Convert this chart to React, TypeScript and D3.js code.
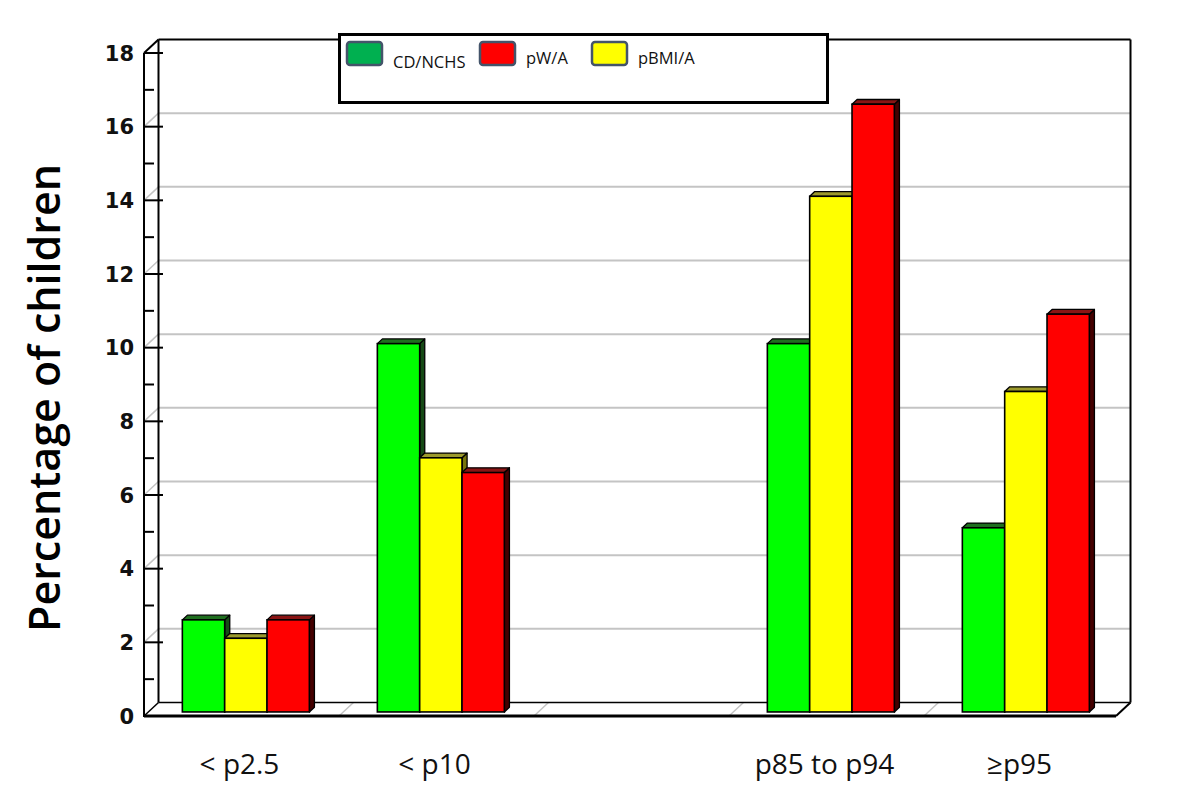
import React from "react";
import * as d3 from "d3";

const categories = ["< p2.5", "< p10", "", "p85 to p94", "≥p95"];
const seriesKeys = ["CD/NCHS", "pBMI/A", "pW/A"];
const cdNchs = [2.5, 10.0, null, 10.0, 5.0];
const pBmiA = [2.0, 6.9, null, 14.0, 8.7];
const pWA = [2.5, 6.5, null, 16.5, 10.8];
const yMajorTicks = [0, 2, 4, 6, 8, 10, 12, 14, 16, 18];
const yMinorTicks = [1, 3, 5, 7, 9, 11, 13, 15, 17];
const legendItems = ["CD/NCHS", "pW/A", "pBMI/A"];
const yTitle = "Percentage of children";

const seriesValues: Record<string, (number | null)[]> = {
  "CD/NCHS": cdNchs,
  "pBMI/A": pBmiA,
  "pW/A": pWA,
};

const barStyle: Record<string, { front: string; top: string; side: string }> = {
  "CD/NCHS": { front: "#00ff00", top: "#1f6f1f", side: "#164a16" },
  "pBMI/A": { front: "#ffff00", top: "#9c9a2c", side: "#77750a" },
  "pW/A": { front: "#ff0000", top: "#8a1414", side: "#450000" },
};
const legendColor: Record<string, string> = {
  "CD/NCHS": "#00b050",
  "pW/A": "#ff0000",
  "pBMI/A": "#ffff00",
};

const W = 1200;
const H = 812;
const X0 = 144;
const X1 = 1119;
const DX = 14.5;
const DY = 13.5;
const Z_FRONT = 0.3;
const Z_BACK = 0.65;

export default function App() {
  const x = d3.scaleBand<string>().domain(categories).range([X0, X1]).paddingInner(0).paddingOuter(0);
  const groupW = 127;
  const xs = d3.scaleBand<string>().domain(seriesKeys).range([0, groupW]);
  const y = d3.scaleLinear().domain([0, 18]).range([716, 53]);

  const P = (xf: number, v: number, z: number): [number, number] => [xf + z * DX, y(v) - z * DY];
  const pts = (arr: [number, number][]) => arr.map((p) => p.join(",")).join(" ");

  const backLeft = X0 + DX;
  const backRight = X1 + DX - 3;
  const frontRight = X1 - 3;

  const bars: React.ReactNode[] = [];
  categories.forEach((cat, ci) => {
    const gx = (x(cat) as number) + (x.bandwidth() - groupW) / 2;
    seriesKeys.forEach((key) => {
      const v = seriesValues[key][ci];
      if (v == null) return;
      const bx0 = gx + (xs(key) as number);
      const bx1 = bx0 + xs.bandwidth();
      const st = barStyle[key];
      const fbl = P(bx0, 0, Z_FRONT);
      const fbr = P(bx1, 0, Z_FRONT);
      const ftl = P(bx0, v, Z_FRONT);
      const ftr = P(bx1, v, Z_FRONT);
      const btl = P(bx0, v, Z_BACK);
      const btr = P(bx1, v, Z_BACK);
      const bbr = P(bx1, 0, Z_BACK);
      bars.push(
        <g key={cat + key}>
          <polygon points={pts([fbr, ftr, btr, bbr])} fill={st.side} stroke="#000" strokeWidth={1.3} strokeLinejoin="round" />
          <polygon points={pts([ftl, ftr, btr, btl])} fill={st.top} stroke="#000" strokeWidth={1.3} strokeLinejoin="round" />
          <rect x={ftl[0]} y={ftl[1]} width={bx1 - bx0} height={fbl[1] - ftl[1]} fill={st.front} stroke="#000" strokeWidth={1.6} />
        </g>
      );
    });
  });

  return (
    <svg width={W} height={H} viewBox={`0 0 ${W} ${H}`} style={{ position: "absolute", left: 0, top: 0, background: "#fff" }}>
      <rect x={0} y={0} width={W} height={H} fill="#fff" />
      {/* back wall gridlines */}
      {yMajorTicks.filter((t) => t > 0 && t < 18).map((t) => {
        const f = P(X0, t, 0);
        const b = P(X0, t, 1);
        return (
          <g key={"g" + t}>
            <line x1={b[0]} y1={b[1]} x2={backRight} y2={b[1]} stroke="#c4c4c4" strokeWidth={2} />
            <line x1={f[0]} y1={f[1]} x2={b[0]} y2={b[1]} stroke="#c4c4c4" strokeWidth={1.5} />
          </g>
        );
      })}
      {/* floor diagonals at category boundaries */}
      {categories.slice(1).map((cat) => {
        const xb = x(cat) as number;
        const f = P(xb, 0, 0);
        const b = P(xb, 0, 1);
        return <line key={"fd" + cat} x1={f[0]} y1={f[1]} x2={b[0]} y2={b[1]} stroke="#c4c4c4" strokeWidth={1.5} />;
      })}
      {/* walls */}
      <line x1={backLeft} y1={y(18) - DY} x2={backRight} y2={y(18) - DY} stroke="#000" strokeWidth={2} />
      <line x1={backLeft} y1={y(18) - DY} x2={backLeft} y2={y(0) - DY} stroke="#000" strokeWidth={2} />
      <line x1={backLeft} y1={y(0) - DY} x2={backRight} y2={y(0) - DY} stroke="#000" strokeWidth={1.6} />
      <line x1={backRight} y1={y(18) - DY} x2={backRight} y2={y(0) - DY} stroke="#000" strokeWidth={2} />
      <line x1={backRight} y1={y(0) - DY} x2={frontRight} y2={y(0)} stroke="#000" strokeWidth={2} />
      <line x1={X0} y1={y(18)} x2={backLeft} y2={y(18) - DY} stroke="#000" strokeWidth={2} />
      <line x1={X0} y1={y(0)} x2={backLeft} y2={y(0) - DY} stroke="#000" strokeWidth={1.5} />
      {/* bars */}
      {bars}
      {/* front floor edge & axis */}
      <line x1={X0} y1={y(0)} x2={frontRight} y2={y(0)} stroke="#000" strokeWidth={3} />
      <line x1={X0} y1={y(0) + 1} x2={X0} y2={y(18)} stroke="#000" strokeWidth={2} />
      {yMajorTicks.map((t) => (
        <g key={"t" + t}>
          <line x1={X0} y1={y(t)} x2={X0 + 19} y2={y(t)} stroke="#000" strokeWidth={2} />
          <text x={134} y={y(t)} dy="0.36em" textAnchor="end" fontFamily="'DejaVu Sans', Arial, sans-serif" fontWeight="bold" fontSize={21} fill="#111">
            {t}
          </text>
        </g>
      ))}
      {yMinorTicks.map((t) => (
        <line key={"m" + t} x1={X0} y1={y(t)} x2={X0 + 10} y2={y(t)} stroke="#000" strokeWidth={2} />
      ))}
      {/* category labels */}
      {categories.map((cat) =>
        cat ? (
          <text key={"c" + cat} x={(x(cat) as number) + x.bandwidth() / 2 - 2} y={774} textAnchor="middle" fontFamily="'Open Sans', sans-serif" fontSize={28} fill="#111">
            {cat}
          </text>
        ) : null
      )}
      {/* y title */}
      <text transform={`translate(60, 398) rotate(-90)`} textAnchor="middle" fontFamily="'Open Sans', sans-serif" fontWeight={600} fontSize={43} fill="#000">
        {yTitle}
      </text>
      {/* legend */}
      <rect x={339.5} y={34.5} width={488} height={68} fill="#fff" stroke="#000" strokeWidth={3} />
      {legendItems.map((item, i) => {
        const lx = [347, 480, 592][i];
        return (
          <g key={"l" + item}>
            <rect x={lx} y={42} width={35} height={23} rx={3} fill={legendColor[item]} stroke="#44546a" strokeWidth={2.5} />
            <text x={lx + 46} y={i === 0 ? 68 : 64} fontFamily="'Open Sans', sans-serif" fontSize={16.5} fill="#111">
              {item}
            </text>
          </g>
        );
      })}
    </svg>
  );
}
